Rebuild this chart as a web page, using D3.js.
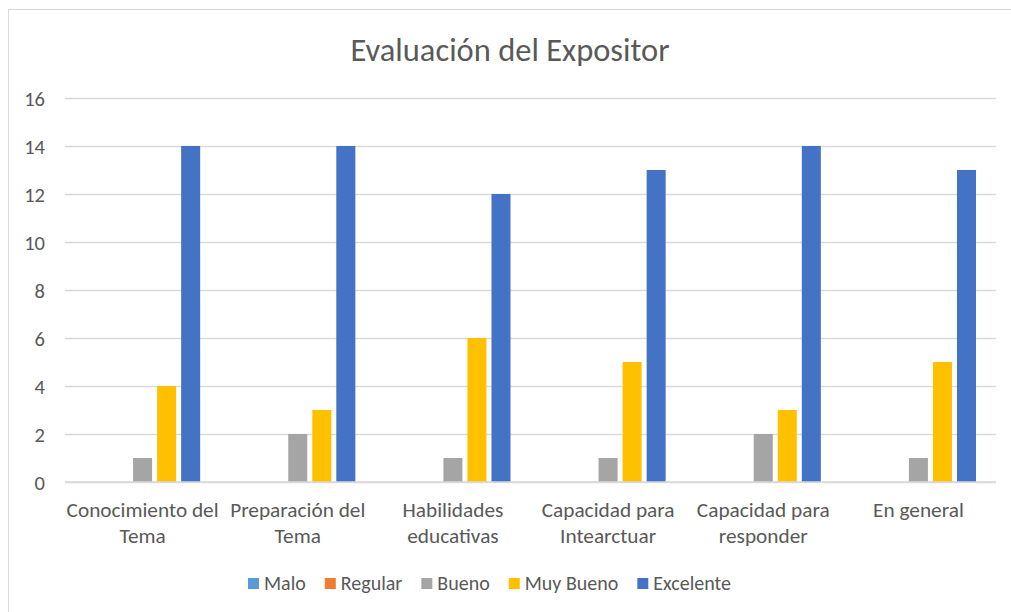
<!DOCTYPE html>
<html>
<head>
<meta charset="utf-8">
<script src="https://cdn.jsdelivr.net/npm/d3@7/dist/d3.min.js"></script>
<style>
  html, body { margin: 0; padding: 0; background: #fff; }
  svg { display: block; }
  text { font-family: Carlito, Calibri, Lato, sans-serif; fill: #595959; }
</style>
</head>
<body>
<svg id="chart" width="1011" height="612"></svg>
<script>
const title = "Evaluación del Expositor";
const categories = [
  ["Conocimiento del", "Tema"],
  ["Preparación del", "Tema"],
  ["Habilidades", "educativas"],
  ["Capacidad para", "Intearctuar"],
  ["Capacidad para", "responder"],
  ["En general"]
];
const seriesNames = ["Malo", "Regular", "Bueno", "Muy Bueno", "Excelente"];
const seriesColors = ["#5B9BD5", "#ED7D31", "#A5A5A5", "#FFC000", "#4472C4"];
const malo      = [0, 0, 0, 0, 0, 0];
const regular   = [0, 0, 0, 0, 0, 0];
const bueno     = [1, 2, 1, 1, 2, 1];
const muyBueno  = [4, 3, 6, 5, 3, 5];
const excelente = [14, 14, 12, 13, 14, 13];
const yTicks = [0, 2, 4, 6, 8, 10, 12, 14, 16];

const seriesValues = [malo, regular, bueno, muyBueno, excelente];

const svg = d3.select("#chart");

// chart border
svg.append("rect").attr("x", 8.5).attr("y", 9.5).attr("width", 1030).attr("height", 640)
  .attr("fill", "none").attr("stroke", "#d9d9d9").attr("stroke-width", 1);

const plot = { left: 65, right: 996, top: 98, bottom: 482 };

const x0 = d3.scaleBand().domain(d3.range(categories.length))
  .range([plot.left, plot.right]).paddingInner(0).paddingOuter(0);
const groupPad = 20;
const x1 = d3.scaleBand().domain(seriesNames)
  .range([groupPad, x0.bandwidth() - groupPad]).paddingInner(5 / 24).paddingOuter(0);
const y = d3.scaleLinear().domain([0, 16]).range([plot.bottom, plot.top]);

// title
svg.append("text").attr("x", 510).attr("y", 61).attr("text-anchor", "middle")
  .style("font-size", "32.5px").text(title);

// gridlines
const yAxis = d3.axisLeft(y).tickValues(yTicks).tickSize(-(plot.right - plot.left)).tickPadding(20);
const gy = svg.append("g").attr("transform", `translate(${plot.left},0)`).call(yAxis);
gy.select(".domain").remove();
gy.selectAll(".tick line").attr("stroke", "#d9d9d9").attr("stroke-width", 1.5);
gy.selectAll(".tick text").style("font-size", "20.5px").attr("fill", "#595959")
  .attr("font-family", null).attr("dy", "0.35em");

// bars
const groups = svg.append("g").selectAll("g").data(categories).join("g")
  .attr("transform", (d, i) => `translate(${x0(i)},0)`);
groups.selectAll("rect")
  .data((d, i) => seriesNames.map((s, k) => ({ s, k, v: seriesValues[k][i] })))
  .join("rect")
  .attr("x", d => x1(d.s))
  .attr("width", x1.bandwidth())
  .attr("y", d => y(d.v))
  .attr("height", d => y(0) - y(d.v))
  .attr("fill", d => seriesColors[d.k]);

// x axis line
svg.append("line").attr("x1", plot.left).attr("x2", plot.right)
  .attr("y1", y(0)).attr("y2", y(0)).attr("stroke", "#d9d9d9").attr("stroke-width", 1.5);

// category labels
const xAxis = d3.axisBottom(x0).tickSize(0).tickFormat(() => "");
const gx = svg.append("g").attr("transform", `translate(0,${plot.bottom})`).call(xAxis);
gx.select(".domain").remove();
gx.selectAll(".tick").each(function(d) {
  const t = d3.select(this).select("text").attr("y", 0).attr("dy", null)
    .attr("font-family", null).style("font-size", "21.3px").attr("fill", "#595959");
  categories[d].forEach((line, j) => {
    t.append("tspan").attr("x", 0).attr("y", 35 + j * 26).text(line);
  });
});

// legend
const legend = svg.append("g");
let lx = 0;
const gap = 19;
seriesNames.forEach((s, k) => {
  const g = legend.append("g");
  g.append("rect").attr("x", 0).attr("y", -12).attr("width", 11).attr("height", 11).attr("fill", seriesColors[k]);
  const t = g.append("text").attr("x", 16).attr("y", 0).style("font-size", "20px").text(s);
  const w = 16 + t.node().getComputedTextLength();
  g.attr("transform", `translate(${lx},0)`);
  lx += w + gap;
});
const legendW = lx - gap;
legend.attr("transform", `translate(${489.5 - legendW / 2},590)`);
</script>
</body>
</html>
